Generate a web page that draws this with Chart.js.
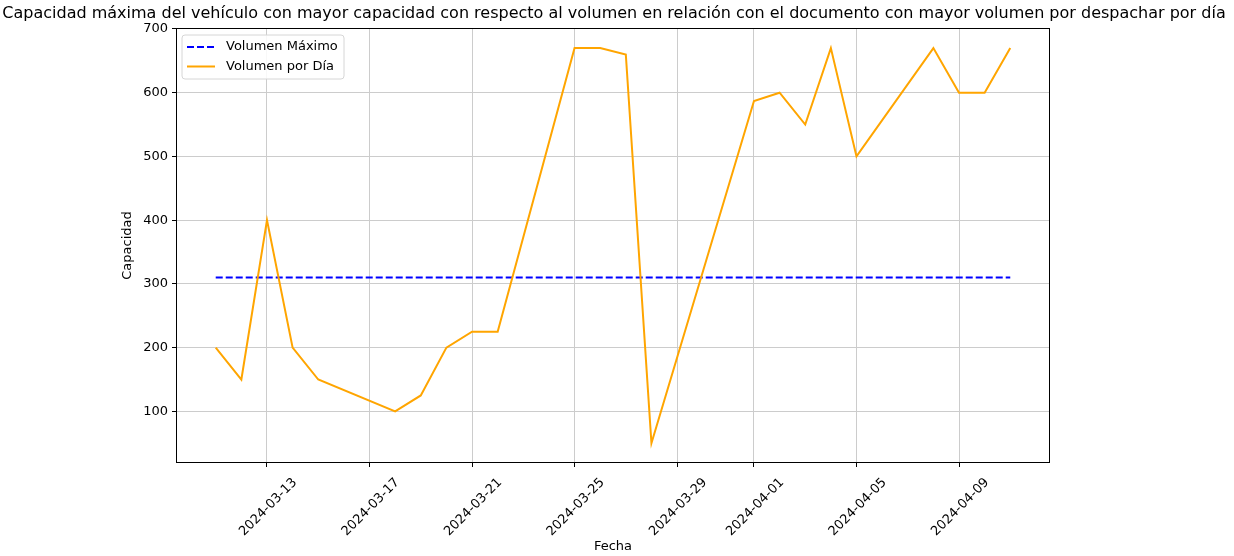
<!DOCTYPE html>
<html>
<head>
<meta charset="utf-8">
<script src="https://cdn.jsdelivr.net/npm/chart.js@4.4.1/dist/chart.umd.min.js"></script>
<style>
  html, body { margin: 0; padding: 0; background: #fff; }
</style>
</head>
<body>
<canvas id="grafico" width="1234" height="556"></canvas>
<script>
// datos
const titulo = 'Capacidad máxima del vehículo con mayor capacidad con respecto al volumen en relación con el documento con mayor volumen por despachar por día';
const fechas = ['2024-03-11', '2024-03-12', '2024-03-13', '2024-03-14', '2024-03-15', '2024-03-18',
    '2024-03-19', '2024-03-20', '2024-03-21', '2024-03-22', '2024-03-25', '2024-03-26', '2024-03-27',
    '2024-03-28', '2024-04-01', '2024-04-02', '2024-04-03', '2024-04-04', '2024-04-05', '2024-04-08',
    '2024-04-09', '2024-04-10', '2024-04-11'];
const volumenPorDia = [200, 150, 400, 200, 150, 100, 125, 200, 225, 225, 670, 670, 660,
    50, 587, 600, 550, 670, 500, 670, 600, 600, 670];
const volumenMaximo = 310;
const fechasTicks = ['2024-03-13', '2024-03-17', '2024-03-21', '2024-03-25', '2024-03-29',
    '2024-04-01', '2024-04-05', '2024-04-09'];
const capacidadTicks = [100, 200, 300, 400, 500, 600, 700];
const leyenda = ['Volumen Máximo', 'Volumen por Día'];

const DIA = 86400000;
const aDia = s => Date.UTC(+s.slice(0, 4), +s.slice(5, 7) - 1, +s.slice(8, 10)) / DIA;
const aTexto = d => new Date(Math.round(d) * DIA).toISOString().slice(0, 10);

const FUENTE = 'DejaVu Sans';
Chart.defaults.font.family = FUENTE;
Chart.defaults.color = '#000';

const primerDia = aDia(fechas[0]);
const ultimoDia = aDia(fechas[fechas.length - 1]);
const margenX = (ultimoDia - primerDia) * 0.05;

// título, marco y leyenda al estilo matplotlib
const extras = {
    id: 'extras',
    afterDraw(chart) {
        const ctx = chart.ctx;
        const a = chart.chartArea;
        ctx.save();
        // marco
        ctx.strokeStyle = '#000';
        ctx.lineWidth = 1;
        ctx.strokeRect(a.left + 0.5, a.top + 0.5, a.right - a.left - 1, a.bottom - a.top - 1);
        // título
        ctx.fillStyle = '#000';
        ctx.font = '16px "' + FUENTE + '"';
        ctx.textAlign = 'center';
        ctx.textBaseline = 'middle';
        ctx.fillText(titulo, 614, 14);
        // leyenda
        const x = a.left + 6, y = a.top + 7, w = 162, h = 44;
        ctx.fillStyle = 'rgba(255,255,255,0.85)';
        ctx.strokeStyle = '#d6d6d6';
        ctx.beginPath();
        ctx.roundRect(x, y, w, h, 3);
        ctx.fill();
        ctx.stroke();
        ctx.font = '13px "' + FUENTE + '"';
        ctx.textAlign = 'left';
        chart.data.datasets.forEach((ds, i) => {
            const yy = y + 12 + i * 19.5;
            ctx.strokeStyle = ds.borderColor;
            ctx.lineWidth = ds.borderWidth;
            ctx.setLineDash(ds.borderDash || []);
            ctx.beginPath();
            ctx.moveTo(x + 5, yy);
            ctx.lineTo(x + 33, yy);
            ctx.stroke();
            ctx.setLineDash([]);
            ctx.fillStyle = '#000';
            ctx.fillText(leyenda[i], x + 44, yy);
        });
        ctx.restore();
    }
};

new Chart(document.getElementById('grafico'), {
    type: 'line',
    data: {
        datasets: [{
            label: leyenda[0],
            data: fechas.map(f => ({ x: aDia(f), y: volumenMaximo })),
            borderColor: '#0000ff',
            borderWidth: 2,
            borderDash: [7, 3],
            pointRadius: 0,
            order: 1
        }, {
            label: leyenda[1],
            data: fechas.map((f, i) => ({ x: aDia(f), y: volumenPorDia[i] })),
            borderColor: '#ffa500',
            borderWidth: 2,
            pointRadius: 0,
            order: 0
        }]
    },
    options: {
        responsive: false,
        animation: false,
        layout: { padding: { left: 116, right: 184, top: 28, bottom: 2 } },
        plugins: {
            legend: { display: false },
            title: { display: false },
            tooltip: { enabled: false }
        },
        scales: {
            x: {
                type: 'linear',
                min: primerDia - margenX,
                max: ultimoDia + margenX,
                afterBuildTicks: s => { s.ticks = fechasTicks.map(f => ({ value: aDia(f) })); },
                afterFit: s => { s.height = 91; },
                ticks: {
                    callback: v => aTexto(v),
                    autoSkip: false,
                    minRotation: 45,
                    maxRotation: 45,
                    padding: 8,
                    labelOffset: 28,
                    font: { size: 13 }
                },
                grid: { color: '#cccccc', tickColor: '#000', tickLength: 4 },
                border: { display: false },
                title: { display: true, text: 'Fecha', font: { size: 13 }, padding: { top: 0, bottom: 0 } }
            },
            y: {
                min: 19,
                max: 701.5,
                afterBuildTicks: s => { s.ticks = capacidadTicks.map(v => ({ value: v })); },
                afterFit: s => { s.width = 60; },
                ticks: { padding: 4, font: { size: 13 } },
                grid: { color: '#cccccc', tickColor: '#000', tickLength: 4 },
                border: { display: false },
                title: { display: true, text: 'Capacidad', font: { size: 13 }, padding: { top: 4, bottom: 4 } }
            }
        }
    },
    plugins: [extras]
});
</script>
</body>
</html>
